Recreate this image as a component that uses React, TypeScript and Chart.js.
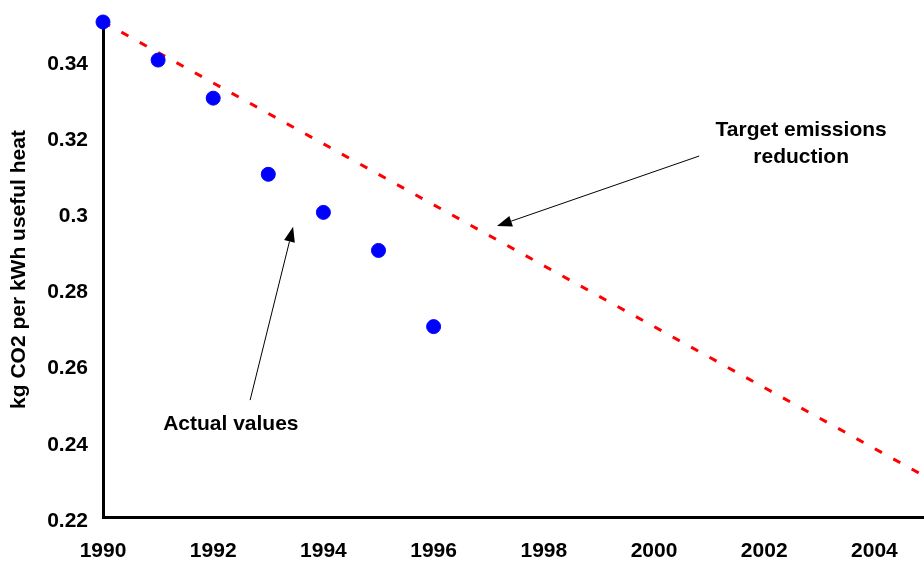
import React, { useEffect, useRef } from "react";
import { Chart, registerables } from "chart.js";

Chart.register(...registerables);

const actualYears = [1990, 1991, 1992, 1993, 1994, 1995, 1996];
const actualValues = [0.35, 0.34, 0.33, 0.31, 0.3, 0.29, 0.27];
const targetYears = [1990, 2005];
const targetValues = [0.35, 0.23];
const xTicks = [1990, 1992, 1994, 1996, 1998, 2000, 2002, 2004];
const yTicks = [0.22, 0.24, 0.26, 0.28, 0.3, 0.32, 0.34];

const FONT = "'Liberation Sans', Arial, sans-serif";
const FS = 21;

// annotations in data coordinates
const annotations = [
  { lines: ["Target emissions", "reduction"], tx: 2002.67, ty: 0.3216, fx: 2000.82, fy: 0.3148, ax: 1997.15, ay: 0.2964 },
  { lines: ["Actual values"], tx: 1992.32, ty: 0.2444, fx: 1992.67, fy: 0.2507, ax: 1993.45, ay: 0.2962 },
];

const annotationPlugin = {
  id: "annot",
  afterDatasetsDraw(chart: any) {
    const { ctx, scales } = chart;
    const xs = scales.x, ys = scales.y;
    ctx.save();
    ctx.fillStyle = "#000";
    ctx.strokeStyle = "#000";
    ctx.font = `bold ${FS}px ${FONT}`;
    ctx.textAlign = "center";
    ctx.textBaseline = "middle";
    for (const a of annotations) {
      const tx = xs.getPixelForValue(a.tx);
      const ty = ys.getPixelForValue(a.ty);
      a.lines.forEach((l, i) => ctx.fillText(l, tx, ty + i * 27));
      const fx = xs.getPixelForValue(a.fx), fy = ys.getPixelForValue(a.fy);
      const ax = xs.getPixelForValue(a.ax), ay = ys.getPixelForValue(a.ay);
      const ang = Math.atan2(ay - fy, ax - fx);
      const hl = 15, hw = 5.5;
      const bx = ax - hl * Math.cos(ang), by = ay - hl * Math.sin(ang);
      ctx.lineWidth = 1;
      ctx.beginPath();
      ctx.moveTo(fx, fy);
      ctx.lineTo(bx, by);
      ctx.stroke();
      ctx.beginPath();
      ctx.moveTo(ax, ay);
      ctx.lineTo(bx + hw * Math.sin(ang), by - hw * Math.cos(ang));
      ctx.lineTo(bx - hw * Math.sin(ang), by + hw * Math.cos(ang));
      ctx.closePath();
      ctx.fill();
    }
    ctx.restore();
  },
};

export default function App() {
  const ref = useRef<HTMLCanvasElement>(null);
  useEffect(() => {
    document.body.style.margin = "0";
    const chart = new Chart(ref.current!, {
      type: "scatter",
      data: {
        datasets: [
          {
            type: "line",
            label: "Target",
            data: targetYears.map((x, i) => ({ x, y: targetValues[i] })),
            borderColor: "#FF0000",
            borderWidth: 3,
            borderDash: [8, 13],
            pointRadius: 0,
            fill: false,
            order: 2,
          } as any,
          {
            label: "Actual",
            data: actualYears.map((x, i) => ({ x, y: actualValues[i] })),
            backgroundColor: "#0000FF",
            borderColor: "#0000FF",
            pointRadius: 7,
            pointHoverRadius: 7,
            clip: false,
            order: 1,
          },
        ],
      },
      options: {
        animation: false,
        responsive: false,
        events: [],
        layout: { padding: { top: 22, right: 0, left: 0, bottom: 0 }, autoPadding: false } as any,
        plugins: { legend: { display: false }, tooltip: { enabled: false } },
        scales: {
          x: {
            type: "linear",
            min: 1990,
            max: 2004.9,
            grid: { display: false, drawTicks: false },
            border: { display: true, color: "#000", width: 3 },
            afterBuildTicks: (s: any) => { s.ticks = xTicks.map((v) => ({ value: v })); },
            afterFit: (s: any) => { s.height = 46; s.paddingLeft = 0; s.paddingRight = 0; },
            ticks: {
              color: "#000",
              padding: 22,
              maxRotation: 0,
              autoSkip: false,
              font: { family: FONT, size: FS, weight: "bold" },
              callback: (v: any) => String(v),
            },
          },
          y: {
            type: "linear",
            min: 0.22,
            max: 0.35,
            grid: { display: false, drawTicks: false },
            border: { display: true, color: "#000", width: 3 },
            afterBuildTicks: (s: any) => { s.ticks = yTicks.map((v) => ({ value: v })); },
            afterFit: (s: any) => { s.width = 103; s.paddingTop = 0; s.paddingBottom = 0; },
            title: {
              display: true,
              text: "kg CO2 per kWh useful heat",
              color: "#000",
              font: { family: FONT, size: FS, weight: "bold" },
              padding: { top: 7, bottom: 0 },
            },
            ticks: {
              color: "#000",
              padding: 15,
              labelOffset: 4,
              autoSkip: false,
              font: { family: FONT, size: FS, weight: "bold" },
              callback: (v: any) => String(Math.round(v * 100) / 100),
            },
          },
        },
      },
      plugins: [annotationPlugin],
    });
    return () => chart.destroy();
  }, []);
  return (
    <div style={{ position: "fixed", left: 0, top: 0, width: 924, height: 563, background: "#fff" }}>
      <canvas ref={ref} width={924} height={563} style={{ width: 924, height: 563 }} />
    </div>
  );
}
